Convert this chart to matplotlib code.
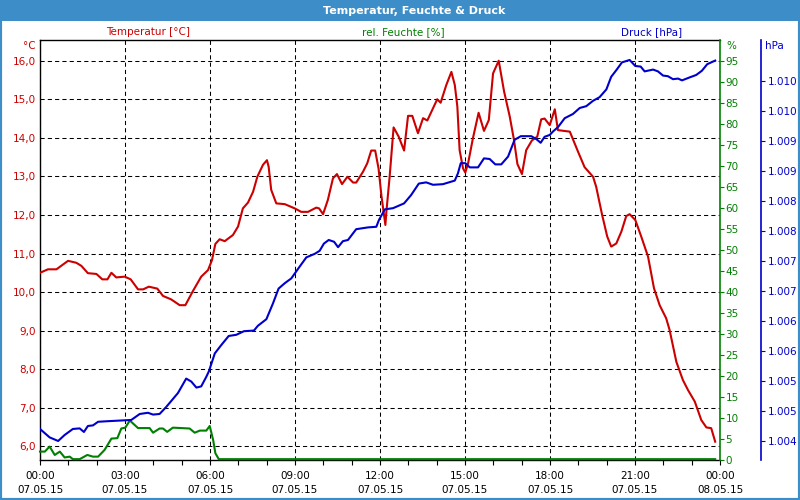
import matplotlib.pyplot as plt
from matplotlib.patches import Rectangle
from matplotlib.ticker import FixedLocator, FuncFormatter, MultipleLocator

# Data (hours since 07.05.15 00:00)
temp_h = [0.0, 0.28, 0.58, 0.99, 1.28, 1.46, 1.69, 1.99, 2.20, 2.38, 2.52, 2.69, 2.99,
          3.20, 3.46, 3.64, 3.84, 4.14, 4.34, 4.63, 4.93, 5.13, 5.40, 5.69, 5.93, 6.07,
          6.19, 6.34, 6.52, 6.81, 6.99, 7.16, 7.34, 7.52, 7.67, 7.87, 8.01, 8.07, 8.16,
          8.34, 8.64, 8.99, 9.22, 9.46, 9.75, 9.85, 9.99, 10.16, 10.34, 10.48, 10.66,
          10.85, 11.05, 11.16, 11.40, 11.55, 11.69, 11.83, 11.95, 12.05, 12.19, 12.22,
          12.34, 12.48, 12.66, 12.85, 12.99, 13.14, 13.34, 13.52, 13.67, 13.84, 14.02,
          14.14, 14.34, 14.52, 14.64, 14.73, 14.81, 14.93, 15.01, 15.11, 15.28, 15.48,
          15.67, 15.84, 15.99, 16.19, 16.38, 16.58, 16.73, 16.85, 17.01, 17.16, 17.36,
          17.55, 17.69, 17.81, 17.99, 18.17, 18.28, 18.70, 18.99, 19.22, 19.52, 19.63,
          19.84, 20.02, 20.16, 20.34, 20.52, 20.69, 20.81, 21.01, 21.22, 21.46, 21.67,
          21.87, 22.10, 22.22, 22.46, 22.69, 22.87, 23.11, 23.34, 23.52, 23.69, 23.83]
temp_c = [10.50, 10.59, 10.59, 10.81, 10.76, 10.68, 10.49, 10.47, 10.33, 10.33, 10.50,
          10.38, 10.40, 10.33, 10.07, 10.07, 10.14, 10.09, 9.90, 9.81, 9.66, 9.66, 10.03,
          10.40, 10.57, 10.83, 11.25, 11.37, 11.32, 11.48, 11.70, 12.17, 12.32, 12.60,
          12.99, 13.30, 13.42, 13.25, 12.65, 12.30, 12.28, 12.17, 12.08, 12.08, 12.19,
          12.17, 12.02, 12.39, 12.95, 13.06, 12.80, 12.99, 12.84, 12.84, 13.12, 13.34,
          13.67, 13.67, 13.20, 12.50, 11.74, 12.04, 12.99, 14.27, 14.03, 13.67, 14.57,
          14.57, 14.12, 14.51, 14.45, 14.72, 15.00, 14.91, 15.37, 15.71, 15.37, 14.81,
          13.68, 13.21, 13.10, 13.34, 13.99, 14.65, 14.18, 14.46, 15.67, 16.00, 15.20,
          14.55, 13.94, 13.32, 13.06, 13.68, 13.93, 14.03, 14.48, 14.50, 14.33, 14.74,
          14.20, 14.16, 13.64, 13.24, 12.99, 12.73, 12.00, 11.44, 11.18, 11.26, 11.57,
          11.97, 12.02, 11.87, 11.44, 10.92, 10.10, 9.66, 9.32, 9.02, 8.19, 7.72, 7.46,
          7.16, 6.68, 6.49, 6.47, 6.12]

hum_h = [0.0, 0.17, 0.34, 0.52, 0.70, 0.87, 1.05, 1.16, 1.40, 1.67, 1.87, 2.05, 2.28,
         2.52, 2.73, 2.87, 3.01, 3.17, 3.46, 3.87, 3.99, 4.22, 4.34, 4.49, 4.69, 5.28,
         5.46, 5.64, 5.87, 5.99, 6.11, 6.19, 6.31, 23.83]
hum_pct = [2.0, 2.0, 3.2, 1.2, 2.0, 0.6, 0.8, 0.2, 0.2, 1.2, 0.8, 0.8, 2.4, 5.1, 5.2,
           7.5, 7.7, 9.4, 7.6, 7.6, 6.5, 7.5, 7.5, 6.7, 7.7, 7.5, 6.5, 7.0, 7.0, 8.1,
           4.8, 1.6, 0.2, 0.2]

press_h = [0.0, 0.34, 0.64, 0.87, 1.16, 1.40, 1.55, 1.69, 1.87, 2.05, 2.40, 2.81, 3.22,
           3.52, 3.81, 3.99, 4.22, 4.46, 4.87, 5.16, 5.34, 5.52, 5.69, 5.87, 5.96, 6.17,
           6.40, 6.66, 6.93, 7.20, 7.55, 7.69, 7.99, 8.22, 8.42, 8.64, 8.87, 9.17, 9.40,
           9.70, 9.87, 10.02, 10.19, 10.38, 10.52, 10.69, 10.87, 11.16, 11.58, 11.87,
           11.96, 12.17, 12.46, 12.85, 13.10, 13.37, 13.63, 13.87, 14.22, 14.64, 14.75,
           14.85, 15.01, 15.17, 15.46, 15.67, 15.87, 16.07, 16.28, 16.52, 16.75, 16.97,
           17.34, 17.52, 17.67, 17.81, 17.99, 18.11, 18.28, 18.52, 18.81, 19.05, 19.28,
           19.52, 19.75, 19.99, 20.16, 20.34, 20.54, 20.81, 21.01, 21.20, 21.34, 21.64,
           21.81, 21.99, 22.16, 22.34, 22.52, 22.66, 22.93, 23.16, 23.36, 23.55, 23.83]
press_hpa = [1004.20, 1004.06, 1004.00, 1004.10, 1004.20, 1004.21, 1004.15, 1004.25,
             1004.26, 1004.32, 1004.33, 1004.34, 1004.35, 1004.45, 1004.47, 1004.44,
             1004.45, 1004.57, 1004.80, 1005.04, 1004.99, 1004.89, 1004.91, 1005.07,
             1005.16, 1005.46, 1005.60, 1005.75, 1005.77, 1005.83, 1005.84, 1005.92,
             1006.03, 1006.29, 1006.54, 1006.63, 1006.71, 1006.91, 1007.06, 1007.12,
             1007.17, 1007.29, 1007.35, 1007.32, 1007.23, 1007.33, 1007.35, 1007.53,
             1007.56, 1007.57, 1007.68, 1007.86, 1007.88, 1007.96, 1008.10, 1008.29,
             1008.31, 1008.27, 1008.28, 1008.34, 1008.46, 1008.63, 1008.63, 1008.56,
             1008.56, 1008.71, 1008.70, 1008.61, 1008.61, 1008.74, 1009.02, 1009.08,
             1009.08, 1009.03, 1008.97, 1009.07, 1009.10, 1009.16, 1009.23, 1009.38,
             1009.45, 1009.55, 1009.58, 1009.67, 1009.73, 1009.86, 1010.07, 1010.18,
             1010.31, 1010.35, 1010.25, 1010.24, 1010.16, 1010.19, 1010.16, 1010.09,
             1010.08, 1010.03, 1010.04, 1010.01, 1010.06, 1010.10, 1010.17, 1010.28,
             1010.34]

time_ticks = [0, 3, 6, 9, 12, 15, 18, 21, 24]
time_labels = ["00:00\n07.05.15", "03:00\n07.05.15", "06:00\n07.05.15",
               "09:00\n07.05.15", "12:00\n07.05.15", "15:00\n07.05.15",
               "18:00\n07.05.15", "21:00\n07.05.15", "00:00\n08.05.15"]

RED = "#cc0000"
GREEN = "#008000"
BLUE = "#0000cc"
FRAME = "#3d8ec8"
FS = 7.5

plt.rcParams['font.family'] = ['DejaVu Sans']

fig = plt.figure(figsize=(8, 5), dpi=100)
W, H = 800.0, 500.0

# title bar + frame
fig.patches.append(Rectangle((0, 1 - 21 / H), 1, 21 / H, transform=fig.transFigure,
                             facecolor=FRAME, edgecolor='none', zorder=0))
fig.patches.append(Rectangle((0, 0), 1, 1, transform=fig.transFigure, fill=False,
                             edgecolor=FRAME, linewidth=3, zorder=0))
fig.text(414 / W, 1 - 11 / H, "Temperatur, Feuchte & Druck", color='white',
         fontsize=8, fontweight='bold', ha='center', va='center')

ax = fig.add_axes([40 / W, 1 - 460 / H, 680 / W, 420 / H])
ax_h = ax.twinx()
ax_p = ax.twinx()

# temperature
ax.plot(temp_h, temp_c, color=RED, lw=1.5, zorder=3)
ax.set_xlim(0, 24)
ax.set_ylim(5.645, 16.537)
ax.yaxis.set_major_locator(MultipleLocator(1))
ax.yaxis.set_major_formatter(FuncFormatter(lambda v, p: f"{v:.1f}".replace('.', ',')))
ax.tick_params(axis='y', length=0, pad=3, labelsize=FS, labelcolor=RED)
ax.xaxis.set_major_locator(FixedLocator(time_ticks))
ax.set_xticklabels(time_labels, linespacing=1.45)
ax.xaxis.set_minor_locator(MultipleLocator(1))
ax.tick_params(axis='x', which='both', direction='out', length=3.5, width=0.8,
               labelsize=FS, pad=4.5)
ax.grid(True, color='black', linestyle=(0, (4, 3)), linewidth=0.75)
for s in ['left', 'top', 'bottom']:
    ax.spines[s].set_color('black')
    ax.spines[s].set_linewidth(1)
ax.spines['right'].set_visible(False)

# humidity
ax_h.plot(hum_h, hum_pct, color=GREEN, lw=1.5, clip_on=False)
ax_h.set_ylim(0, 100)
ax_h.yaxis.set_major_locator(FixedLocator(range(0, 100, 5)))
ax_h.tick_params(axis='y', direction='out', length=3, width=0.8, color=GREEN,
                 labelcolor=GREEN, labelsize=FS, pad=1)
for s in ['left', 'top', 'bottom']:
    ax_h.spines[s].set_visible(False)
ax_h.spines['right'].set_color(GREEN)
ax_h.spines['right'].set_linewidth(1.2)

# pressure
ax_p.plot(press_h, press_hpa, color=BLUE, lw=1.5)
ax_p.set_ylim(1003.683, 1010.683)
ax_p.spines['right'].set_position(('axes', (760.5 - 40) / 680))
ax_p.yaxis.set_major_locator(FixedLocator([1004 + 0.5 * i for i in range(13)]))
ax_p.yaxis.set_major_formatter(FuncFormatter(lambda v, p: "1.%03d" % (int(v + 0.5) - 1000)))
ax_p.tick_params(axis='y', direction='out', length=3, width=0.8, color=BLUE,
                 labelcolor=BLUE, labelsize=FS, pad=2)
for s in ['left', 'top', 'bottom']:
    ax_p.spines[s].set_visible(False)
ax_p.spines['right'].set_color(BLUE)
ax_p.spines['right'].set_linewidth(1.2)

# series captions and units
fig.text(148 / W, 1 - 32 / H, "Temperatur [°C]", color=RED, fontsize=FS, ha='center', va='center')
fig.text(403 / W, 1 - 32 / H, "rel. Feuchte [%]", color=GREEN, fontsize=FS, ha='center', va='center')
fig.text(652 / W, 1 - 32 / H, "Druck [hPa]", color=BLUE, fontsize=FS, ha='center', va='center')
fig.text(36 / W, 1 - 46 / H, "°C", color=RED, fontsize=FS, ha='right', va='center')
fig.text(726 / W, 1 - 46 / H, "%", color=GREEN, fontsize=FS, ha='left', va='center')
fig.text(765 / W, 1 - 46 / H, "hPa", color=BLUE, fontsize=FS, ha='left', va='center')

fig.savefig("out.png", dpi=100)
